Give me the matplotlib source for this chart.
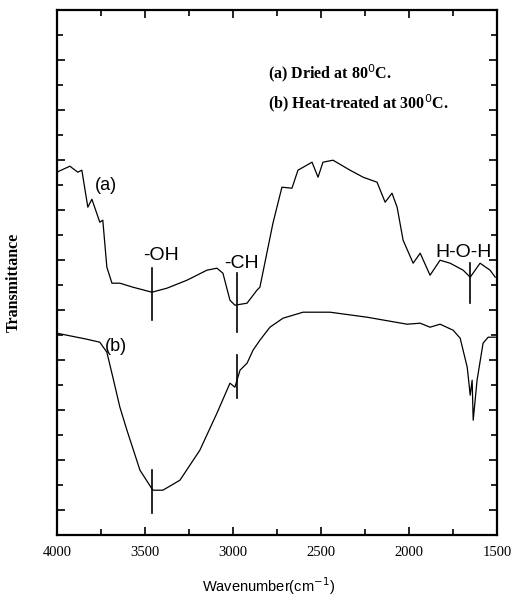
import matplotlib.pyplot as plt
from matplotlib.ticker import MultipleLocator

# FT-IR spectra, transmittance in arbitrary units
wn_a = [4000, 3926, 3881, 3858, 3824, 3801, 3756, 3739, 3716, 3687, 3642, 3568,
        3460, 3375, 3261, 3148, 3091, 3057, 3017, 2989, 2920, 2864, 2847, 2773,
        2722, 2665, 2631, 2551, 2517, 2489, 2432, 2335, 2261, 2182, 2136, 2097,
        2068, 2034, 1977, 1937, 1881, 1824, 1767, 1693, 1653, 1597, 1540, 1511]
tr_a = [14.52, 14.76, 14.52, 14.6, 13.12, 13.44, 12.52, 12.6, 10.72, 10.08, 10.08, 9.92,
        9.72, 9.88, 10.2, 10.6, 10.68, 10.48, 9.4, 9.2, 9.28, 9.8, 9.92, 12.48,
        13.92, 13.88, 14.6, 14.92, 14.32, 14.92, 15.0, 14.6, 14.32, 14.12, 13.32, 13.68,
        13.12, 11.8, 10.88, 11.28, 10.4, 11.0, 10.88, 10.6, 10.32, 10.88, 10.6, 10.32]

wn_b = [4000, 3943, 3830, 3756, 3716, 3682, 3642, 3602, 3528, 3455, 3398, 3301,
        3188, 3091, 3017, 2989, 2960, 2920, 2886, 2847, 2790, 2716, 2602, 2449,
        2239, 2011, 1937, 1881, 1824, 1750, 1710, 1670, 1653, 1642, 1636, 1614,
        1580, 1551, 1511]
tr_b = [8.08, 8.0, 7.84, 7.72, 7.32, 6.32, 5.12, 4.2, 2.6, 1.8, 1.8, 2.2,
        3.4, 4.88, 6.08, 5.92, 6.6, 6.88, 7.4, 7.8, 8.32, 8.68, 8.92, 8.92,
        8.72, 8.44, 8.48, 8.32, 8.44, 8.2, 7.88, 6.72, 5.6, 6.2, 4.6, 6.2,
        7.68, 7.92, 7.92]

# band markers: (wavenumber, y from, y to)
marks = [(3460, 8.6, 10.68), (2977, 8.12, 10.48), (1653, 9.28, 10.88),
         (3460, 0.88, 2.6), (2977, 5.48, 7.2)]
band_labels = ['-OH', '-CH', 'H-O-H']
band_pos = [(3406, 11.2), (2952, 10.88), (1528, 11.32)]
band_ha = ['center', 'center', 'right']

fig = plt.figure(figsize=(5.12, 6), dpi=100)
ax = fig.add_axes([0.111, 0.108, 0.86, 0.875])

ax.plot(wn_a, tr_a, color='black', lw=0.9)
ax.plot(wn_b, tr_b, color='black', lw=0.9)
for x, y0, y1 in marks:
    ax.plot([x, x], [y0, y1], color='black', lw=1.2)

for lab, (x, y), ha in zip(band_labels, band_pos, band_ha):
    ax.text(x, y, lab, fontsize=14, family='Liberation Sans', ha=ha, va='center')

ax.text(3719, 13.98, '(a)', fontsize=13, family='Liberation Sans', ha='center', va='center')
ax.text(3662, 7.56, '(b)', fontsize=13, family='Liberation Sans', ha='center', va='center')

ax.text(2800, 18.48, '(a) Dried at 80$^0$C.', fontsize=11.5, family='Liberation Serif',
        fontweight='bold', va='center')
ax.text(2800, 17.28, '(b) Heat-treated at 300$^0$C.', fontsize=11.5,
        family='Liberation Serif', fontweight='bold', va='center')

ax.set_xlim(4000, 1500)
ax.set_ylim(0, 21)
ax.xaxis.set_major_locator(MultipleLocator(500))
ax.xaxis.set_minor_locator(MultipleLocator(250))
ax.yaxis.set_major_locator(MultipleLocator(2, offset=1))
ax.yaxis.set_minor_locator(MultipleLocator(1))
ax.set_yticklabels([])
ax.tick_params(which='both', direction='in', top=True, right=True, width=1.2)
ax.tick_params(which='major', length=6)
ax.tick_params(which='minor', length=4)
ax.tick_params(axis='x', pad=8)
for lab in ax.get_xticklabels():
    lab.set_family('Liberation Serif')
    lab.set_fontsize(10.5)
for s in ax.spines.values():
    s.set_linewidth(1.6)

ax.set_xlabel('Wavenumber(cm$^{-1}$)', fontsize=10.5, family='Liberation Sans')
ax.xaxis.set_label_coords(0.48, -0.076)
ax.set_ylabel('Transmittance', fontsize=11.5, family='Liberation Serif',
              fontweight='bold')
ax.yaxis.set_label_coords(-0.079, 0.482)

fig.savefig('out.png', dpi=100)
